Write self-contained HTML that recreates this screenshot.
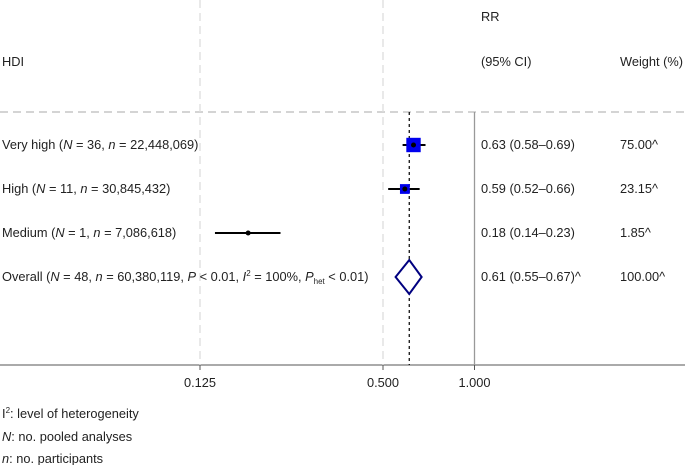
<!DOCTYPE html>
<html><head><meta charset="utf-8"><style>
body{margin:0;background:#fff}
svg text{font-family:"Liberation Sans",sans-serif;font-size:12.8px;fill:#222}
</style></head><body>
<svg width="685" height="465" xmlns="http://www.w3.org/2000/svg">
<g id="static">
<line x1="0" y1="112" x2="685" y2="112" stroke="#bbb" stroke-dasharray="8,5" stroke-width="1.3"/>
<text x="481" y="21">RR</text>
<text x="481" y="66">(95% CI)</text>
<text x="2" y="66">HDI</text>
<text x="620" y="66">Weight (%)</text>
<line x1="0" y1="365" x2="685" y2="365" stroke="#555" stroke-width="1"/>
<text x="2" y="418">I<tspan dy="-5" font-size="8">2</tspan><tspan dy="5">: level of heterogeneity</tspan></text>
<text x="2" y="441"><tspan font-style="italic">N</tspan>: no. pooled analyses</text>
<text x="2" y="463"><tspan font-style="italic">n</tspan>: no. participants</text>
</g>
<g id="plot"></g>
</svg>
<script>
const rowLabels=['Very high (<i>N</i> = 36, <i>n</i> = 22,448,069)','High (<i>N</i> = 11, <i>n</i> = 30,845,432)','Medium (<i>N</i> = 1, <i>n</i> = 7,086,618)'];
const rrValues=[0.63,0.59,0.18];
const ciLow=[0.58,0.52,0.14];
const ciHigh=[0.69,0.66,0.23];
const weights=[75.00,23.15,1.85];
const overall=[0.61,0.55,0.67];
const tickValues=[0.125,0.5,1.0];
const tickLabels=['0.125','0.500','1.000'];
const NS='http://www.w3.org/2000/svg';
const g=document.getElementById('plot');
const x=v=>474.5+91.5*Math.log2(v);
const rowY=i=>145+44*i;
function mk(t,a){const e=document.createElementNS(NS,t);for(const k in a)e.setAttribute(k,a[k]);g.appendChild(e);return e;}
tickValues.forEach((v,i)=>{
  let l;
  if(v===1){l=mk('line',{x1:x(v),y1:112,x2:x(v),y2:365,stroke:'#999','stroke-width':1.3});}
  else{l=mk('line',{x1:x(v),y1:0,x2:x(v),y2:365,stroke:'#ddd','stroke-dasharray':'8,5','stroke-width':1.3});}
  
  
  const tk=mk('line',{x1:x(v),y1:365,x2:x(v),y2:370,stroke:'#555'});
  
  
  const t=mk('text',{x:x(v),y:387,'text-anchor':'middle'});t.textContent=tickLabels[i];
  
  
});
const ref=mk('line',{x1:x(overall[0]),y1:112,x2:x(overall[0]),y2:365,stroke:'#000','stroke-dasharray':'3,3','stroke-width':1.2});


const fmt=v=>v.toFixed(2);
rowLabels.forEach((lab,i)=>{
  const y=rowY(i);
  const fo=mk('text',{x:2,y:y+4});fo.innerHTML=lab.replace(/<i>/g,'<tspan font-style="italic">').replace(/<\/i>/g,'</tspan>');
  
  
  const ci=mk('line',{x1:x(ciLow[i]),y1:y,x2:x(ciHigh[i]),y2:y,stroke:'#000','stroke-width':2});
  
  
  const s=4+Math.sqrt(weights[i])*1.2;
  if(weights[i]>5){const sq=mk('rect',{x:x(rrValues[i])-s/2,y:y-s/2,width:s,height:s,fill:'#0000ee'});
  
  }
  const d=mk('circle',{cx:x(rrValues[i]),cy:y,r:2.5,fill:'#000'});
  
  
  const rt=mk('text',{x:481,y:y+4});rt.textContent=fmt(rrValues[i])+' ('+fmt(ciLow[i])+'–'+fmt(ciHigh[i])+')';
  
  
  const wt=mk('text',{x:620,y:y+4});wt.textContent=fmt(weights[i])+'^';
  
  
});
const oy=rowY(3);
const ol=mk('text',{x:2,y:oy+4});
ol.innerHTML='Overall (<tspan font-style="italic">N</tspan> = 48, <tspan font-style="italic">n</tspan> = 60,380,119, <tspan font-style="italic">P</tspan> &lt; 0.01, <tspan font-style="italic">I</tspan><tspan dy="-5" font-size="8">2</tspan><tspan dy="5"> = 100%, </tspan><tspan font-style="italic">P</tspan><tspan dy="3" font-size="8">het</tspan><tspan dy="-3"> &lt; 0.01)</tspan>';


const dm=mk('polygon',{points:`${x(overall[1])},${oy} ${x(overall[0])},${oy-17} ${x(overall[2])},${oy} ${x(overall[0])},${oy+17}`,fill:'#fff',stroke:'#000080','stroke-width':2});


const ot=mk('text',{x:481,y:oy+4});ot.textContent=fmt(overall[0])+' ('+fmt(overall[1])+'–'+fmt(overall[2])+')^';


const ow=mk('text',{x:620,y:oy+4});ow.textContent='100.00^';


</script>
</body></html>
